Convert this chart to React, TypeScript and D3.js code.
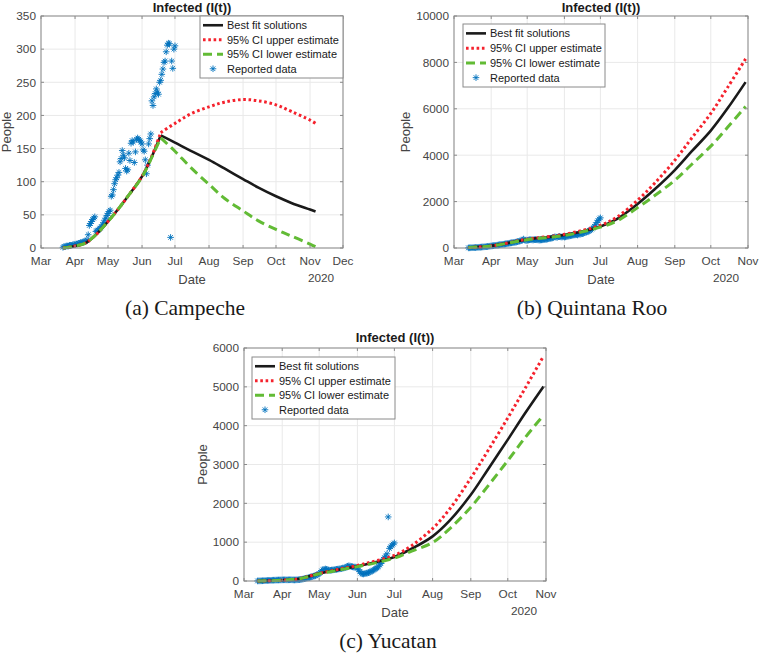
import React from "react";
import * as d3 from "d3";

// ---------------- DATA ----------------
// (a) Campeche
const campecheReportedStart = "2020-03-21";
const campecheReported = [
  1, 2, 2, 3, 3, 3, 4, 4, 4, 5, 5, 5, 6, 6, 7, 7, 8, 8, 9, 9, 10, 11, 12,
  20, 34, 37, 40, 43, 45, 47,
  25, 26, 27, 29, 30, 32, 35, 38, 42, 45, 49, 52, 55, 57,
  78, 80, 88, 97, 103, 106, 110, 114, 130, 135, 147, 140, 136, 120, 116, 118,
  143, 132, 158, 162, 160, 129, 145, 164, 166, 164, 162, 160, 157, 148, 146, 133,
  112, 125, 157, 165, 172,
  222, 215, 228, 233, 240, 235, 232, 250, 253, 262, 270, 280, 282, 296, 306, 309,
  308, 16, 282, 271, 300, 305,
];
const campecheCurveDates = [
  "2020-03-21", "2020-04-01", "2020-04-10", "2020-04-20", "2020-05-01", "2020-05-10",
  "2020-05-20", "2020-06-01", "2020-06-10", "2020-06-18", "2020-07-01", "2020-07-15",
  "2020-08-01", "2020-08-15", "2020-09-01", "2020-09-15", "2020-10-01", "2020-10-15",
  "2020-11-01", "2020-11-06",
];
const campecheFit = [0, 3, 7, 20, 40, 58, 80, 108, 138, 170, 159, 147, 133, 120, 104, 91, 78, 68, 58, 55];
const campecheUpper = [0, 3, 7, 20, 40, 58, 80, 108, 139, 174, 188, 202, 213, 220, 224, 222, 216, 206, 193, 188];
const campecheLower = [0, 3, 7, 20, 40, 58, 80, 107, 137, 166, 146, 122, 96, 75, 56, 41, 28, 18, 6, 2];
const campechePeakIndex = 9;

// (b) Quintana Roo
const quintanaReportedStart = "2020-03-13";
const quintanaReported = [
  5, 8, 10, 12, 15, 18, 20, 25, 28, 32, 36, 40, 45, 50, 55, 60, 66, 72, 80,
  88, 95, 100, 108, 115, 122, 130, 138, 145, 152, 160, 168, 175, 185, 195, 205, 215, 222, 230, 240,
  250, 262, 275, 285, 300, 320, 345, 385, 340, 320,
  330, 340, 355, 360, 350, 345, 360, 365, 355, 350, 340, 345, 350, 355, 360, 370, 380, 390, 400, 410,
  420, 440, 460, 480, 470, 460, 490, 500, 480, 470, 490,
  470, 480, 500, 510, 520, 530, 540, 550, 560, 570, 580, 560, 590, 600, 610, 620, 640, 660, 680, 700,
  720, 750, 780, 820, 870, 930, 1000, 1100, 1180, 1250,
  1300,
];
const quintanaCurveDates = [
  "2020-03-13", "2020-04-01", "2020-05-01", "2020-06-01", "2020-07-01", "2020-07-15",
  "2020-08-01", "2020-08-15", "2020-09-01", "2020-09-15", "2020-10-01", "2020-10-15", "2020-10-30",
];
const quintanaFit = [20, 90, 370, 560, 930, 1260, 1900, 2520, 3360, 4160, 5060, 6020, 7150];
const quintanaUpper = [20, 90, 380, 590, 980, 1340, 2060, 2780, 3780, 4730, 5800, 6920, 8150];
const quintanaLower = [20, 90, 360, 540, 900, 1170, 1740, 2250, 2920, 3600, 4390, 5200, 6100];

// (c) Yucatan
const yucatanReportedStart = "2020-03-12";
const yucatanReported = [
  2, 3, 4, 5, 6, 8, 10, 12, 14, 15, 17, 18, 20, 21, 22, 24, 25, 26, 27, 28,
  29, 30, 31, 30, 29, 30, 31, 32, 30, 28, 27, 29, 31, 33, 36, 40, 45, 52, 60, 68,
  75, 82, 90, 100, 110, 120, 130, 140, 155, 170,
  190, 220, 260, 290, 300, 310, 300, 290, 280, 275, 280, 285, 290, 295, 300, 305, 310, 315, 320, 330,
  335, 345, 360, 380, 390, 385, 375, 365, 360, 360, 355,
  330, 290, 240, 200, 185, 180, 190, 200, 205, 215, 230, 245, 260, 280, 300, 320, 340, 370, 410, 450,
  500, 560, 600, 640, 700, 1650, 840, 880, 920, 950,
  980,
];
const yucatanCurveDates = [
  "2020-03-12", "2020-04-01", "2020-04-15", "2020-05-01", "2020-05-15", "2020-06-01",
  "2020-06-15", "2020-07-01", "2020-07-15", "2020-08-01", "2020-08-15", "2020-09-01",
  "2020-09-15", "2020-10-01", "2020-10-15", "2020-10-30",
];
const yucatanFit = [0, 20, 60, 190, 280, 380, 480, 620, 830, 1150, 1560, 2220, 2880, 3640, 4320, 5010];
const yucatanUpper = [0, 20, 60, 195, 290, 400, 510, 660, 910, 1350, 1860, 2650, 3360, 4200, 4960, 5790];
const yucatanLower = [0, 20, 60, 185, 270, 370, 460, 590, 770, 990, 1350, 1900, 2450, 3100, 3690, 4270];

const legendLabels = ["Best fit solutions", "95% CI upper estimate", "95% CI lower estimate", "Reported data"];
const chartTitle = "Infected (I(t))";
const xLabel = "Date";
const yLabel = "People";
const yearLabel = "2020";

// ---------------- STYLE ----------------
const C_FIT = "#1a1a1a";
const C_UP = "#f5222d";
const C_LOW = "#62bb35";
const C_DATA = "#0072BD";
const C_TEXT = "#454545";
const C_AXIS = "#8a8a8a";
const C_GRID = "#e9e9e9";
const SANS = "'Liberation Sans', Arial, Helvetica, sans-serif";
const SERIF = "'Liberation Serif', 'Times New Roman', serif";

const parse = d3.timeParse("%Y-%m-%d");
const fmtMonth = d3.timeFormat("%b");

const STAR = "M-3.3,0H3.3M0,-3.3V3.3M-2.3,-2.3L2.3,2.3M-2.3,2.3L2.3,-2.3";

type PanelProps = {
  left: number; right: number; top: number; bottom: number;
  xEnd: string; yMax: number; yStep: number;
  reportedStart: string; reported: number[];
  curveDates: string[]; fit: number[]; upper: number[]; lower: number[];
  peakIndex?: number;
  legend: { x: number; y: number; w: number; h: number };
  yLabelOffset: number; titleGap: number;
  caption: string; captionX: number;
};

function Panel(p: PanelProps) {
  const x = d3.scaleTime().domain([parse("2020-03-01")!, parse(p.xEnd)!]).range([p.left, p.right]);
  const y = d3.scaleLinear().domain([0, p.yMax]).range([p.bottom, p.top]);
  const xTicks = d3.timeMonth.range(parse("2020-03-01")!, d3.timeDay.offset(parse(p.xEnd)!, 1));
  const yTicks = d3.range(0, p.yMax + 1e-9, p.yStep);
  const start = parse(p.reportedStart)!;
  const pts = p.reported.map((v, i) => ({ d: d3.timeDay.offset(start, i), v }));
  const cd = p.curveDates.map((s) => parse(s)!);
  const line = d3.line<[Date, number]>()
    .x((d) => x(d[0]))
    .y((d) => y(d[1]))
    .curve(d3.curveCatmullRom.alpha(0.5));
  const mk = (vals: number[]) => {
    const arr = vals.map((v, i) => [cd[i], v] as [Date, number]);
    if (p.peakIndex === undefined) return line(arr) || "";
    const a = line(arr.slice(0, p.peakIndex + 1)) || "";
    const b = line(arr.slice(p.peakIndex)) || "";
    return a + b;
  };
  const cx = (p.left + p.right) / 2;
  const cy = (p.top + p.bottom) / 2;
  const L = p.legend;
  const rowH = (L.h - 4) / 4;
  const sx0 = L.x + 3, sx1 = L.x + 23, tx = L.x + 27;
  return (
    <g>
      {xTicks.map((t, i) => (
        <line key={"gx" + i} x1={x(t)} x2={x(t)} y1={p.top} y2={p.bottom} stroke={C_GRID} strokeWidth={1} />
      ))}
      {yTicks.map((t, i) => (
        <line key={"gy" + i} x1={p.left} x2={p.right} y1={y(t)} y2={y(t)} stroke={C_GRID} strokeWidth={1} />
      ))}
      <g stroke={C_DATA} strokeWidth={0.9} fill="none">
        {pts.map((d, i) => (
          <path key={"p" + i} d={STAR} transform={`translate(${x(d.d)},${y(d.v)})`} />
        ))}
      </g>
      <path d={mk(p.fit)} fill="none" stroke={C_FIT} strokeWidth={2.6} />
      <path d={mk(p.upper)} fill="none" stroke={C_UP} strokeWidth={3} strokeDasharray="2.6 2.7" />
      <path d={mk(p.lower)} fill="none" stroke={C_LOW} strokeWidth={3} strokeDasharray="9 5" />
      <rect x={p.left} y={p.top} width={p.right - p.left} height={p.bottom - p.top} fill="none" stroke={C_AXIS} strokeWidth={1} />
      {xTicks.map((t, i) => (
        <g key={"tx" + i}>
          <line x1={x(t)} x2={x(t)} y1={p.bottom} y2={p.bottom - 3} stroke={C_AXIS} />
          <line x1={x(t)} x2={x(t)} y1={p.top} y2={p.top + 3} stroke={C_AXIS} />
          <text x={x(t)} y={p.bottom + 17} textAnchor="middle" fontSize={11.8} fill={C_TEXT} fontFamily={SANS}>
            {fmtMonth(t)}
          </text>
        </g>
      ))}
      {yTicks.map((t, i) => (
        <g key={"ty" + i}>
          <line x1={p.left} x2={p.left + 3} y1={y(t)} y2={y(t)} stroke={C_AXIS} />
          <line x1={p.right} x2={p.right - 3} y1={y(t)} y2={y(t)} stroke={C_AXIS} />
          <text x={p.left - 5} y={y(t) + 4.3} textAnchor="end" fontSize={11.8} fill={C_TEXT} fontFamily={SANS}>
            {t}
          </text>
        </g>
      ))}
      <text x={cx} y={p.top - p.titleGap} textAnchor="middle" fontSize={13} fontWeight="bold" fill="#1a1a1a" fontFamily={SANS}>
        {chartTitle}
      </text>
      <text x={cx} y={p.bottom + 36} textAnchor="middle" fontSize={13} fill={C_TEXT} fontFamily={SANS}>
        {xLabel}
      </text>
      <text x={p.right - 22} y={p.bottom + 34} textAnchor="middle" fontSize={11.8} fill={C_TEXT} fontFamily={SANS}>
        {yearLabel}
      </text>
      <text transform={`translate(${p.left - p.yLabelOffset},${cy}) rotate(-90)`} textAnchor="middle" dy="0.35em"
        fontSize={13} fill={C_TEXT} fontFamily={SANS}>
        {yLabel}
      </text>
      <rect x={L.x} y={L.y} width={L.w} height={L.h} fill="#fff" stroke={C_AXIS} strokeWidth={1} />
      {legendLabels.map((lab, i) => {
        const ry = L.y + 2 + rowH * (i + 0.5);
        return (
          <g key={"lg" + i}>
            {i === 0 && <line x1={sx0} x2={sx1} y1={ry} y2={ry} stroke={C_FIT} strokeWidth={2.6} />}
            {i === 1 && <line x1={sx0} x2={sx1} y1={ry} y2={ry} stroke={C_UP} strokeWidth={3} strokeDasharray="2.6 2.7" />}
            {i === 2 && <line x1={sx0} x2={sx1} y1={ry} y2={ry} stroke={C_LOW} strokeWidth={3} strokeDasharray="9 5" />}
            {i === 3 && <path d={STAR} transform={`translate(${(sx0 + sx1) / 2},${ry})`} stroke={C_DATA} strokeWidth={0.9} fill="none" />}
            <text x={tx} y={ry + 3.9} fontSize={11} fill="#1a1a1a" fontFamily={SANS}>{lab}</text>
          </g>
        );
      })}
      <text x={p.captionX} y={p.bottom + 67} textAnchor="middle" fontSize={21.5} fill="#1a1a1a" fontFamily={SERIF}>
        {p.caption}
      </text>
    </g>
  );
}

export default function App() {
  return (
    <svg width={760} height={654} viewBox="0 0 760 654"
      style={{ position: "absolute", left: 0, top: 0, background: "#fff" }}>
      <rect x={0} y={0} width={760} height={654} fill="#fff" />
      <Panel left={41} right={343} top={16} bottom={248} xEnd="2020-12-01" yMax={350} yStep={50}
        reportedStart={campecheReportedStart} reported={campecheReported}
        curveDates={campecheCurveDates} fit={campecheFit} upper={campecheUpper} lower={campecheLower}
        peakIndex={campechePeakIndex}
        legend={{ x: 200, y: 16, w: 143, h: 62 }} yLabelOffset={35} titleGap={4}
        caption="(a) Campeche" captionX={185} />
      <Panel left={454} right={748} top={16} bottom={248} xEnd="2020-11-01" yMax={10000} yStep={2000}
        reportedStart={quintanaReportedStart} reported={quintanaReported}
        curveDates={quintanaCurveDates} fit={quintanaFit} upper={quintanaUpper} lower={quintanaLower}
        legend={{ x: 463, y: 24, w: 142, h: 63 }} yLabelOffset={49} titleGap={4}
        caption="(b) Quintana Roo" captionX={592} />
      <Panel left={244} right={546} top={348} bottom={581} xEnd="2020-11-01" yMax={6000} yStep={1000}
        reportedStart={yucatanReportedStart} reported={yucatanReported}
        curveDates={yucatanCurveDates} fit={yucatanFit} upper={yucatanUpper} lower={yucatanLower}
        legend={{ x: 252, y: 357, w: 143, h: 62 }} yLabelOffset={42} titleGap={6}
        caption="(c) Yucatan" captionX={388} />
    </svg>
  );
}
